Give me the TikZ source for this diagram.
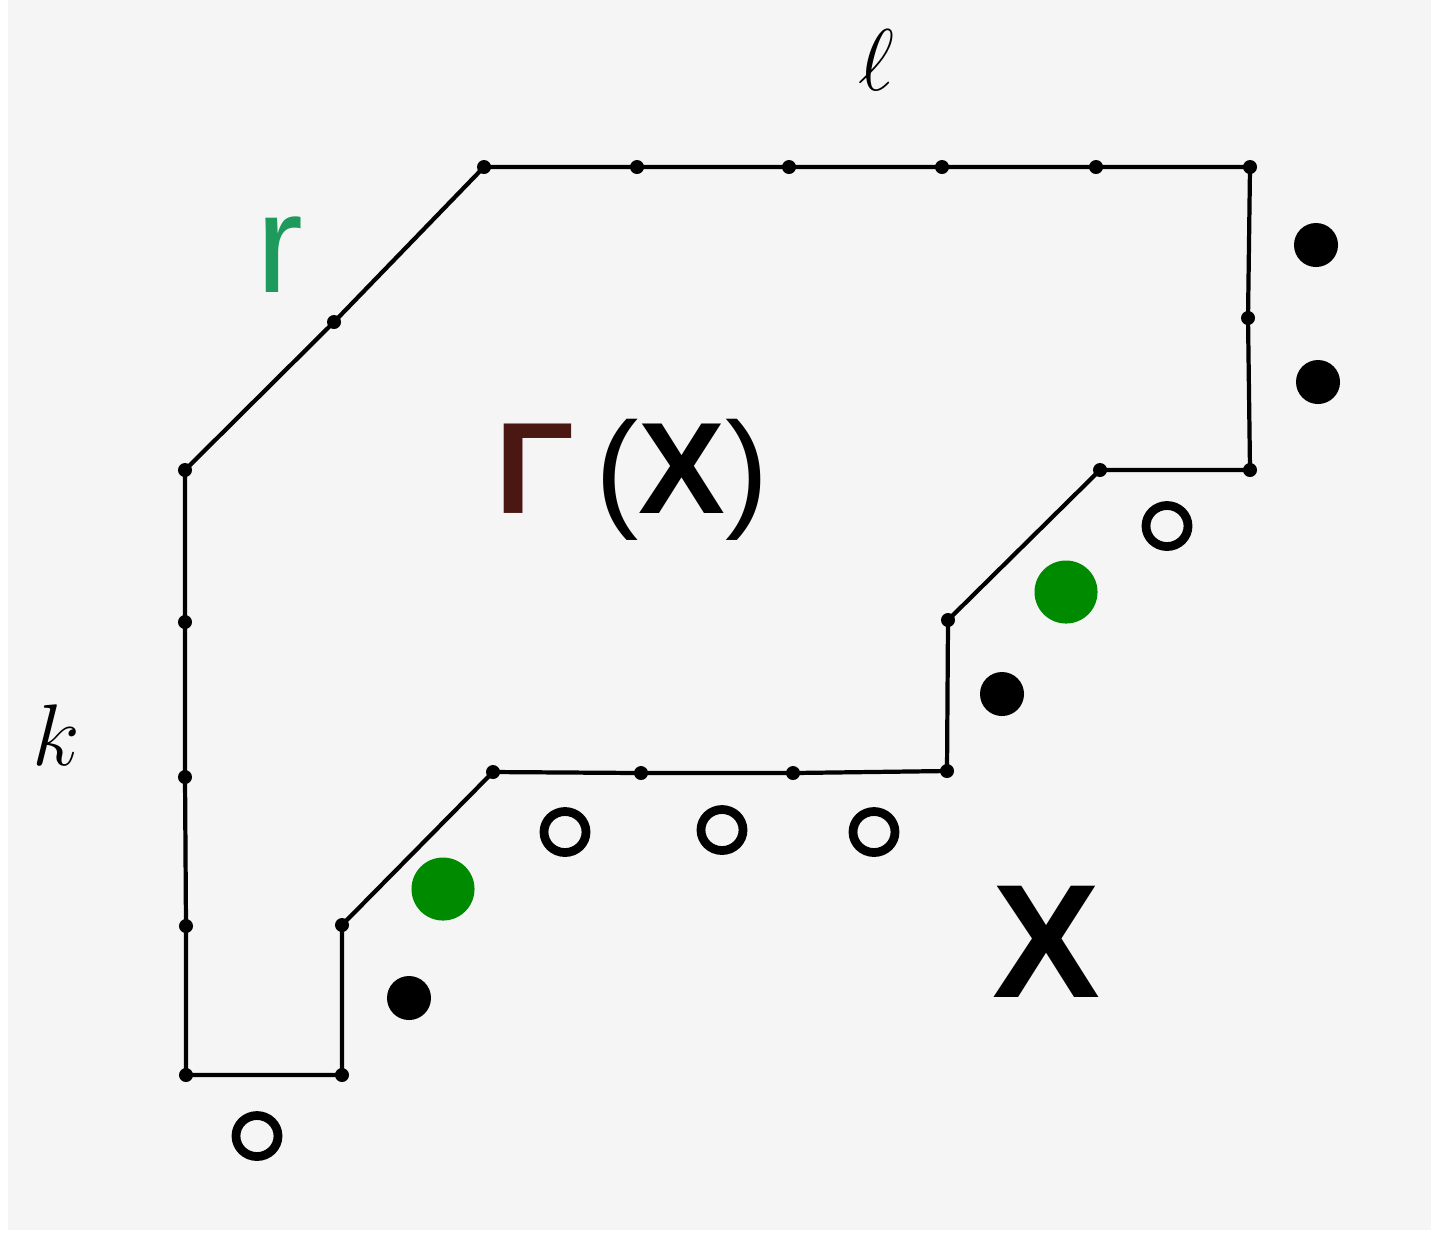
\documentclass[tikz,border=0pt]{standalone}
\usepackage{fontspec}
\usetikzlibrary{shapes.geometric}
\newfontfamily\handsans{Liberation Sans}
\definecolor{paper}{HTML}{F5F5F5}
\definecolor{pengreen}{HTML}{1E9A5C}
\definecolor{dotgreen}{HTML}{008A00}
\definecolor{gammared}{HTML}{4A1712}
\begin{document}
\begin{tikzpicture}[x=0.01cm,y=-0.01cm,
  edge/.style={line width=1.2pt,black},
  vtx/.style={circle,fill=black,inner sep=0pt,minimum size=0.14cm},
  bigdot/.style={circle,fill=black,inner sep=0pt,minimum size=0.44cm},
  greendot/.style={circle,fill=dotgreen,inner sep=0pt,minimum size=0.63cm},
  hole/.style={ellipse,draw=black,line width=2.5pt,inner sep=0pt,minimum width=0.42cm,minimum height=0.41cm},
  lbl/.style={inner sep=0pt}]
\useasboundingbox (0,0) rectangle (1431,1241);
\fill[white] (0,0) rectangle (1431,1241);
\fill[paper] (8,0) rectangle (1431,1230);

% corners and points on the boundary path
\node[vtx] (a1) at (484,167) {};
\node[vtx] (a2) at (637,167) {};
\node[vtx] (a3) at (789,167) {};
\node[vtx] (a4) at (942,167) {};
\node[vtx] (a5) at (1096,167) {};
\node[vtx] (a6) at (1250,167) {};
\node[vtx] (b1) at (1248,318) {};
\node[vtx] (b2) at (1250,470) {};
\node[vtx] (c1) at (1100,470) {};
\node[vtx] (c2) at (948,620) {};
\node[vtx] (c3) at (947,771) {};
\node[vtx] (d1) at (793,773) {};
\node[vtx] (d2) at (641,773) {};
\node[vtx] (d3) at (493,772) {};
\node[vtx] (e1) at (342,925) {};
\node[vtx] (e2) at (342,1075) {};
\node[vtx] (f1) at (186,1075) {};
\node[vtx] (f2) at (186,926) {};
\node[vtx] (f3) at (185,777) {};
\node[vtx] (f4) at (185,622) {};
\node[vtx] (f5) at (185,470) {};
\node[vtx] (g1) at (334,322) {};

\draw[edge] (a1.center) -- (a2.center) -- (a3.center) -- (a4.center) -- (a5.center) -- (a6.center)
  -- (b1.center) -- (b2.center) -- (c1.center) -- (c2.center) -- (c3.center)
  -- (d1.center) -- (d2.center) -- (d3.center) -- (e1.center) -- (e2.center)
  -- (f1.center) -- (f2.center) -- (f3.center) -- (f4.center) -- (f5.center)
  -- (g1.center) -- cycle;

% filled points
\node[bigdot] (p1) at (1316,245) {};
\node[bigdot] (p2) at (1318,382) {};
\node[bigdot] (p3) at (1002,694) {};
\node[bigdot] (p4) at (409,998) {};
\node[greendot] (q1) at (1066,592) {};
\node[greendot] (q2) at (443,889) {};

% empty points
\node[hole] (h1) at (1167,526) {};
\node[hole] (h2) at (565,832) {};
\node[hole] (h3) at (722,830) {};
\node[hole] (h4) at (874,832) {};
\node[hole] (h5) at (257,1136) {};

% labels
\node[lbl] (ell) at (876,60) {\fontsize{32}{32}\selectfont$\ell$};
\node[lbl,text=pengreen] (rr) at (280,255) {\fontsize{40}{40}\selectfont\handsans r};
\node[lbl] (kk) at (56,735) {\fontsize{40}{40}\selectfont$k$};
\node[lbl] (gx) at (632,480) {\fontsize{37}{37}\selectfont\handsans{\color{gammared}\bfseries Γ}\,(\textbf{X})};
\node[lbl] (xx) at (1046,942) {\fontsize{46}{46}\selectfont\handsans\bfseries X};
\end{tikzpicture}
\end{document}
